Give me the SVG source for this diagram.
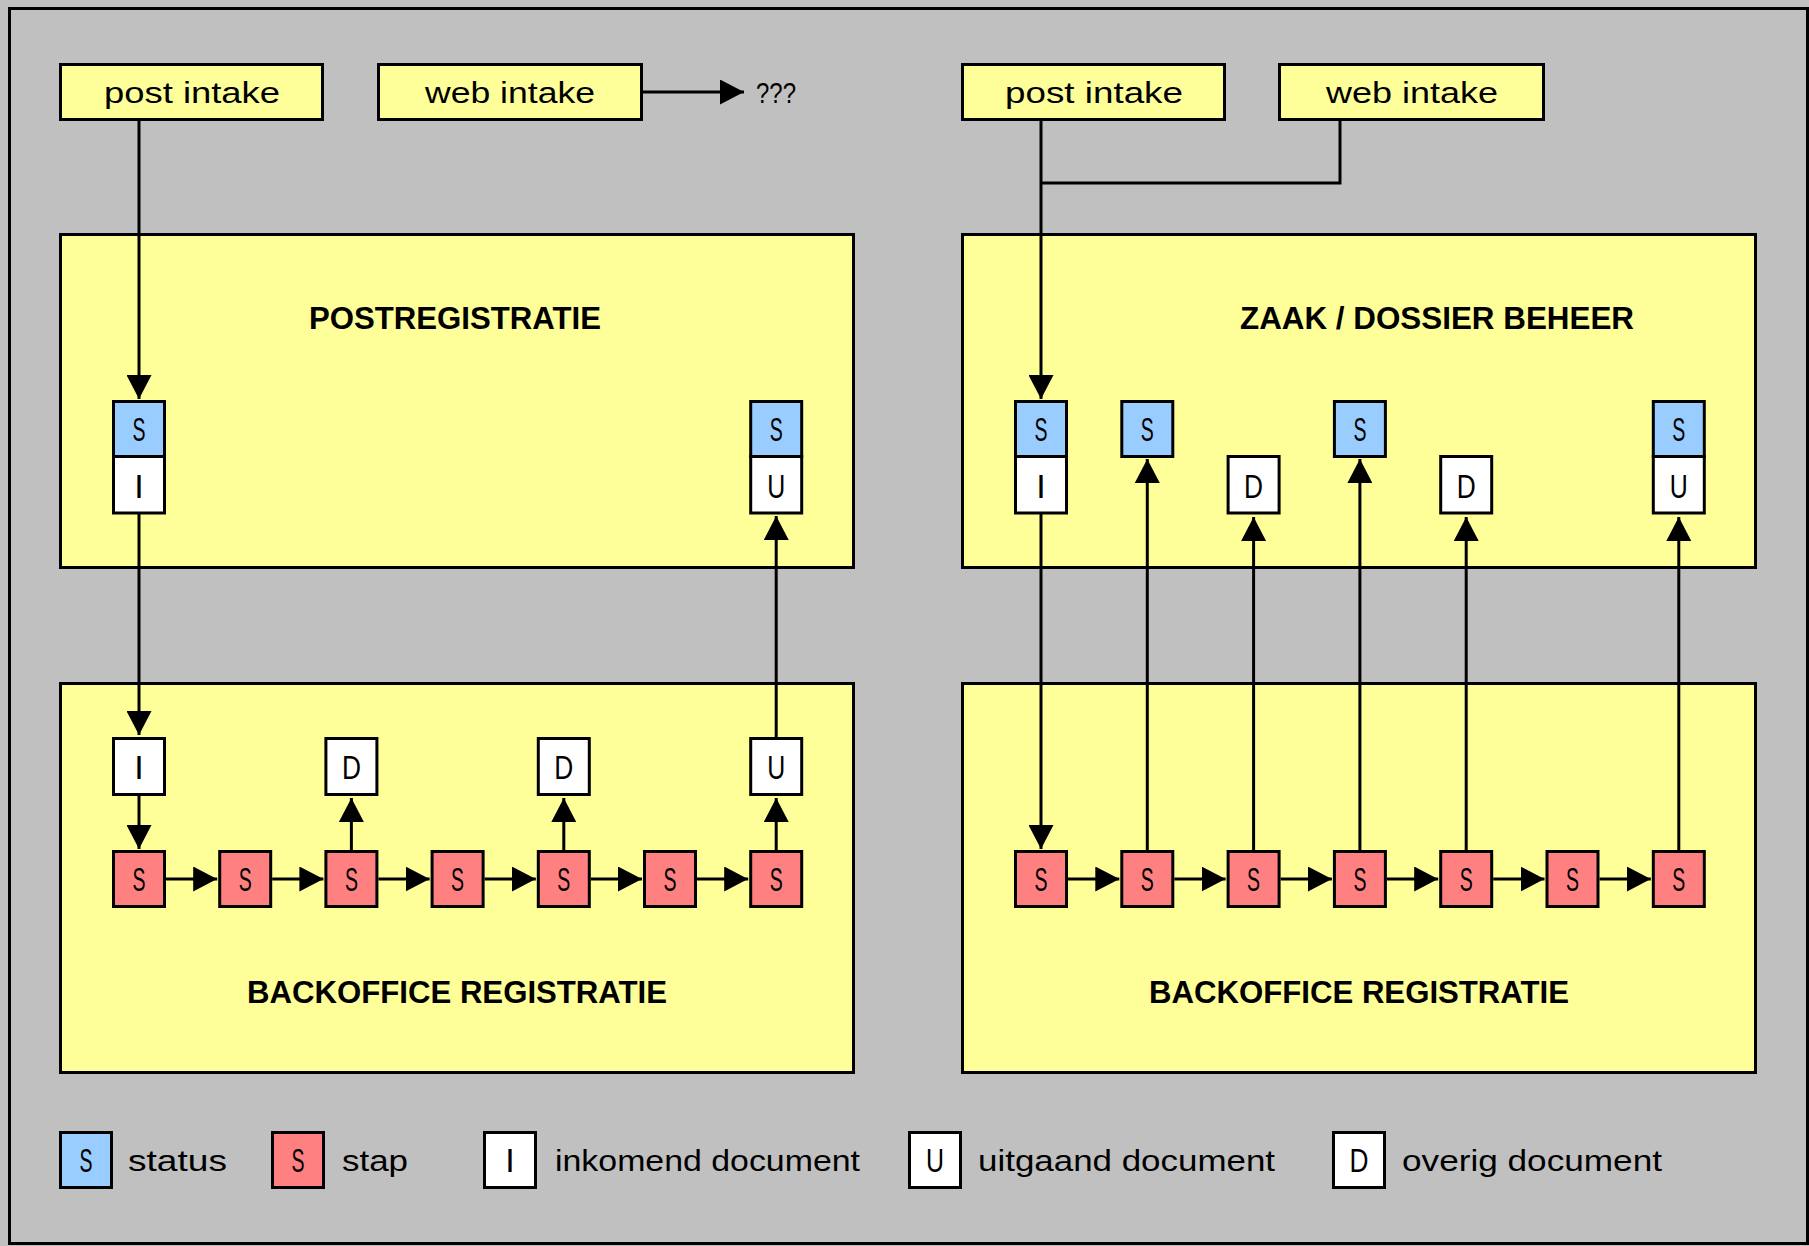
<svg xmlns="http://www.w3.org/2000/svg" width="1809" height="1246" viewBox="0 0 1809 1246">
<defs>
<style>
.bg{fill:#C0C0C0}
.frame{fill:none;stroke:#000;stroke-width:3}
.box{fill:#FFFF99;stroke:#000;stroke-width:3}
.st{fill:#99CCFF;stroke:#000;stroke-width:3}
.sp{fill:#FF8080;stroke:#000;stroke-width:3}
.doc{fill:#FFFFFF;stroke:#000;stroke-width:3}
.lbl{font-family:"Liberation Sans",Arial,sans-serif;font-size:29px;fill:#000;text-anchor:middle}
.leg{font-family:"Liberation Sans",Arial,sans-serif;font-size:29px;fill:#000}
.ttl{font-family:"Liberation Sans",Arial,sans-serif;font-size:32px;font-weight:bold;fill:#000;text-anchor:middle}
.ch{font-family:"Liberation Sans",Arial,sans-serif;font-size:34px;fill:#000;text-anchor:middle}
.c{fill:none;stroke:#000;stroke-width:3}
</style>
<marker id="ah" markerUnits="userSpaceOnUse" markerWidth="24" markerHeight="25" viewBox="0 0 24 25" refX="24" refY="12.5" orient="auto">
<path d="M0,0 L24,12.5 L0,25 Z" fill="#000"/>
</marker>
</defs>
<rect class="bg" x="0" y="0" width="1809" height="1246"/>
<rect class="frame" x="9.5" y="8.5" width="1798" height="1235"/>

<!-- big containers -->
<g id="postregistratie"><rect class="box" x="60.5" y="234.5" width="793" height="333"/><text class="ttl" x="455" y="329" textLength="292" lengthAdjust="spacingAndGlyphs">POSTREGISTRATIE</text></g>
<g id="backoffice-left"><rect class="box" x="60.5" y="683.5" width="793" height="389"/><text class="ttl" x="457" y="1003" textLength="420" lengthAdjust="spacingAndGlyphs">BACKOFFICE REGISTRATIE</text></g>
<g id="zaak-dossier"><rect class="box" x="962.5" y="234.5" width="793" height="333"/><text class="ttl" x="1437" y="329" textLength="394" lengthAdjust="spacingAndGlyphs">ZAAK / DOSSIER BEHEER</text></g>
<g id="backoffice-right"><rect class="box" x="962.5" y="683.5" width="793" height="389"/><text class="ttl" x="1359" y="1003" textLength="420" lengthAdjust="spacingAndGlyphs">BACKOFFICE REGISTRATIE</text></g>

<!-- intake boxes -->
<g id="post-intake-left"><rect class="box" x="60.5" y="64.5" width="262" height="55"/><text class="lbl" x="192" y="103" textLength="176" lengthAdjust="spacingAndGlyphs">post intake</text></g>
<g id="web-intake-left"><rect class="box" x="378.5" y="64.5" width="263" height="55"/><text class="lbl" x="510" y="103" textLength="170" lengthAdjust="spacingAndGlyphs">web intake</text></g>
<g id="unknown"><text class="leg" x="756" y="103" textLength="40" lengthAdjust="spacingAndGlyphs">???</text></g>
<g id="post-intake-right"><rect class="box" x="962.5" y="64.5" width="262" height="55"/><text class="lbl" x="1094" y="103" textLength="178" lengthAdjust="spacingAndGlyphs">post intake</text></g>
<g id="web-intake-right"><rect class="box" x="1279.5" y="64.5" width="264" height="55"/><text class="lbl" x="1412" y="103" textLength="172" lengthAdjust="spacingAndGlyphs">web intake</text></g>

<!-- connectors -->
<g id="connectors">
<path class="c" d="M643,92 H744" marker-end="url(#ah)"/>
<path class="c" d="M139,121 V399" marker-end="url(#ah)"/>
<path class="c" d="M139,514 V735" marker-end="url(#ah)"/>
<path class="c" d="M139,796 V849" marker-end="url(#ah)"/>
<path class="c" d="M351.4,850 V798" marker-end="url(#ah)"/>
<path class="c" d="M563.8,850 V798" marker-end="url(#ah)"/>
<path class="c" d="M776.2,850 V798" marker-end="url(#ah)"/>
<path class="c" d="M776.2,737 V516" marker-end="url(#ah)"/>
<path class="c" d="M166,879 H217.2" marker-end="url(#ah)"/>
<path class="c" d="M272.2,879 H323.4" marker-end="url(#ah)"/>
<path class="c" d="M378.4,879 H429.6" marker-end="url(#ah)"/>
<path class="c" d="M484.6,879 H535.8" marker-end="url(#ah)"/>
<path class="c" d="M590.8,879 H642" marker-end="url(#ah)"/>
<path class="c" d="M697,879 H748.2" marker-end="url(#ah)"/>

<path class="c" d="M1041,121 V399" marker-end="url(#ah)"/>
<path class="c" d="M1340,121 V183 H1041"/>
<path class="c" d="M1041,514 V849" marker-end="url(#ah)"/>
<path class="c" d="M1147.3,850 V459" marker-end="url(#ah)"/>
<path class="c" d="M1253.6,850 V517" marker-end="url(#ah)"/>
<path class="c" d="M1359.9,850 V459" marker-end="url(#ah)"/>
<path class="c" d="M1466.2,850 V517" marker-end="url(#ah)"/>
<path class="c" d="M1678.8,850 V517" marker-end="url(#ah)"/>
<path class="c" d="M1068,879 H1119.3" marker-end="url(#ah)"/>
<path class="c" d="M1174.3,879 H1225.6" marker-end="url(#ah)"/>
<path class="c" d="M1280.6,879 H1331.9" marker-end="url(#ah)"/>
<path class="c" d="M1386.9,879 H1438.2" marker-end="url(#ah)"/>
<path class="c" d="M1493.2,879 H1544.5" marker-end="url(#ah)"/>
<path class="c" d="M1599.5,879 H1650.8" marker-end="url(#ah)"/>
</g>

<!-- left postregistratie small boxes -->
<g id="pr-status-in"><rect class="st" x="113.5" y="401.5" width="51" height="55"/><text class="ch" x="139" y="441" textLength="13" lengthAdjust="spacingAndGlyphs">S</text></g>
<g id="pr-doc-in"><rect class="doc" x="113.5" y="456.5" width="51" height="56.5"/><text class="ch" x="139" y="498">I</text></g>
<g id="pr-status-out"><rect class="st" x="750.7" y="401.5" width="51" height="55"/><text class="ch" x="776.2" y="441" textLength="13" lengthAdjust="spacingAndGlyphs">S</text></g>
<g id="pr-doc-out"><rect class="doc" x="750.7" y="456.5" width="51" height="56.5"/><text class="ch" x="776.2" y="498" textLength="18" lengthAdjust="spacingAndGlyphs">U</text></g>

<!-- left backoffice docs -->
<g id="bl-doc-in"><rect class="doc" x="113.5" y="738.5" width="51" height="56"/><text class="ch" x="139" y="779">I</text></g>
<g id="bl-doc-d1"><rect class="doc" x="325.9" y="738.5" width="51" height="56"/><text class="ch" x="351.4" y="779" textLength="19" lengthAdjust="spacingAndGlyphs">D</text></g>
<g id="bl-doc-d2"><rect class="doc" x="538.3" y="738.5" width="51" height="56"/><text class="ch" x="563.8" y="779" textLength="19" lengthAdjust="spacingAndGlyphs">D</text></g>
<g id="bl-doc-out"><rect class="doc" x="750.7" y="738.5" width="51" height="56"/><text class="ch" x="776.2" y="779" textLength="18" lengthAdjust="spacingAndGlyphs">U</text></g>

<!-- left steps -->
<g id="bl-step1"><rect class="sp" x="113.5" y="851.5" width="51" height="55"/><text class="ch" x="139" y="891" textLength="13" lengthAdjust="spacingAndGlyphs">S</text></g>
<g id="bl-step2"><rect class="sp" x="219.7" y="851.5" width="51" height="55"/><text class="ch" x="245.2" y="891" textLength="13" lengthAdjust="spacingAndGlyphs">S</text></g>
<g id="bl-step3"><rect class="sp" x="325.9" y="851.5" width="51" height="55"/><text class="ch" x="351.4" y="891" textLength="13" lengthAdjust="spacingAndGlyphs">S</text></g>
<g id="bl-step4"><rect class="sp" x="432.1" y="851.5" width="51" height="55"/><text class="ch" x="457.6" y="891" textLength="13" lengthAdjust="spacingAndGlyphs">S</text></g>
<g id="bl-step5"><rect class="sp" x="538.3" y="851.5" width="51" height="55"/><text class="ch" x="563.8" y="891" textLength="13" lengthAdjust="spacingAndGlyphs">S</text></g>
<g id="bl-step6"><rect class="sp" x="644.5" y="851.5" width="51" height="55"/><text class="ch" x="670" y="891" textLength="13" lengthAdjust="spacingAndGlyphs">S</text></g>
<g id="bl-step7"><rect class="sp" x="750.7" y="851.5" width="51" height="55"/><text class="ch" x="776.2" y="891" textLength="13" lengthAdjust="spacingAndGlyphs">S</text></g>

<!-- right zaak/dossier small boxes -->
<g id="zd-status1"><rect class="st" x="1015.5" y="401.5" width="51" height="55"/><text class="ch" x="1041" y="441" textLength="13" lengthAdjust="spacingAndGlyphs">S</text></g>
<g id="zd-doc-in"><rect class="doc" x="1015.5" y="456.5" width="51" height="56.5"/><text class="ch" x="1041" y="498">I</text></g>
<g id="zd-status2"><rect class="st" x="1121.8" y="401.5" width="51" height="55"/><text class="ch" x="1147.3" y="441" textLength="13" lengthAdjust="spacingAndGlyphs">S</text></g>
<g id="zd-doc-d1"><rect class="doc" x="1228.1" y="456.5" width="51" height="56.5"/><text class="ch" x="1253.6" y="498" textLength="19" lengthAdjust="spacingAndGlyphs">D</text></g>
<g id="zd-status3"><rect class="st" x="1334.4" y="401.5" width="51" height="55"/><text class="ch" x="1359.9" y="441" textLength="13" lengthAdjust="spacingAndGlyphs">S</text></g>
<g id="zd-doc-d2"><rect class="doc" x="1440.7" y="456.5" width="51" height="56.5"/><text class="ch" x="1466.2" y="498" textLength="19" lengthAdjust="spacingAndGlyphs">D</text></g>
<g id="zd-status4"><rect class="st" x="1653.3" y="401.5" width="51" height="55"/><text class="ch" x="1678.8" y="441" textLength="13" lengthAdjust="spacingAndGlyphs">S</text></g>
<g id="zd-doc-out"><rect class="doc" x="1653.3" y="456.5" width="51" height="56.5"/><text class="ch" x="1678.8" y="498" textLength="18" lengthAdjust="spacingAndGlyphs">U</text></g>

<!-- right steps -->
<g id="br-step1"><rect class="sp" x="1015.5" y="851.5" width="51" height="55"/><text class="ch" x="1041" y="891" textLength="13" lengthAdjust="spacingAndGlyphs">S</text></g>
<g id="br-step2"><rect class="sp" x="1121.8" y="851.5" width="51" height="55"/><text class="ch" x="1147.3" y="891" textLength="13" lengthAdjust="spacingAndGlyphs">S</text></g>
<g id="br-step3"><rect class="sp" x="1228.1" y="851.5" width="51" height="55"/><text class="ch" x="1253.6" y="891" textLength="13" lengthAdjust="spacingAndGlyphs">S</text></g>
<g id="br-step4"><rect class="sp" x="1334.4" y="851.5" width="51" height="55"/><text class="ch" x="1359.9" y="891" textLength="13" lengthAdjust="spacingAndGlyphs">S</text></g>
<g id="br-step5"><rect class="sp" x="1440.7" y="851.5" width="51" height="55"/><text class="ch" x="1466.2" y="891" textLength="13" lengthAdjust="spacingAndGlyphs">S</text></g>
<g id="br-step6"><rect class="sp" x="1547" y="851.5" width="51" height="55"/><text class="ch" x="1572.5" y="891" textLength="13" lengthAdjust="spacingAndGlyphs">S</text></g>
<g id="br-step7"><rect class="sp" x="1653.3" y="851.5" width="51" height="55"/><text class="ch" x="1678.8" y="891" textLength="13" lengthAdjust="spacingAndGlyphs">S</text></g>

<!-- legend -->
<g id="legend-status"><rect class="st" x="60.5" y="1132.5" width="51" height="55"/><text class="ch" x="86" y="1172" textLength="13" lengthAdjust="spacingAndGlyphs">S</text><text class="leg" x="128" y="1171" textLength="99" lengthAdjust="spacingAndGlyphs">status</text></g>
<g id="legend-stap"><rect class="sp" x="272.5" y="1132.5" width="51" height="55"/><text class="ch" x="298" y="1172" textLength="13" lengthAdjust="spacingAndGlyphs">S</text><text class="leg" x="342" y="1171" textLength="66" lengthAdjust="spacingAndGlyphs">stap</text></g>
<g id="legend-inkomend"><rect class="doc" x="484.5" y="1132.5" width="51" height="55"/><text class="ch" x="510" y="1172">I</text><text class="leg" x="555" y="1171" textLength="305" lengthAdjust="spacingAndGlyphs">inkomend document</text></g>
<g id="legend-uitgaand"><rect class="doc" x="909.5" y="1132.5" width="51" height="55"/><text class="ch" x="935" y="1172" textLength="18" lengthAdjust="spacingAndGlyphs">U</text><text class="leg" x="978" y="1171" textLength="297" lengthAdjust="spacingAndGlyphs">uitgaand document</text></g>
<g id="legend-overig"><rect class="doc" x="1333.5" y="1132.5" width="51" height="55"/><text class="ch" x="1359" y="1172" textLength="19" lengthAdjust="spacingAndGlyphs">D</text><text class="leg" x="1402" y="1171" textLength="260" lengthAdjust="spacingAndGlyphs">overig document</text></g>
</svg>
